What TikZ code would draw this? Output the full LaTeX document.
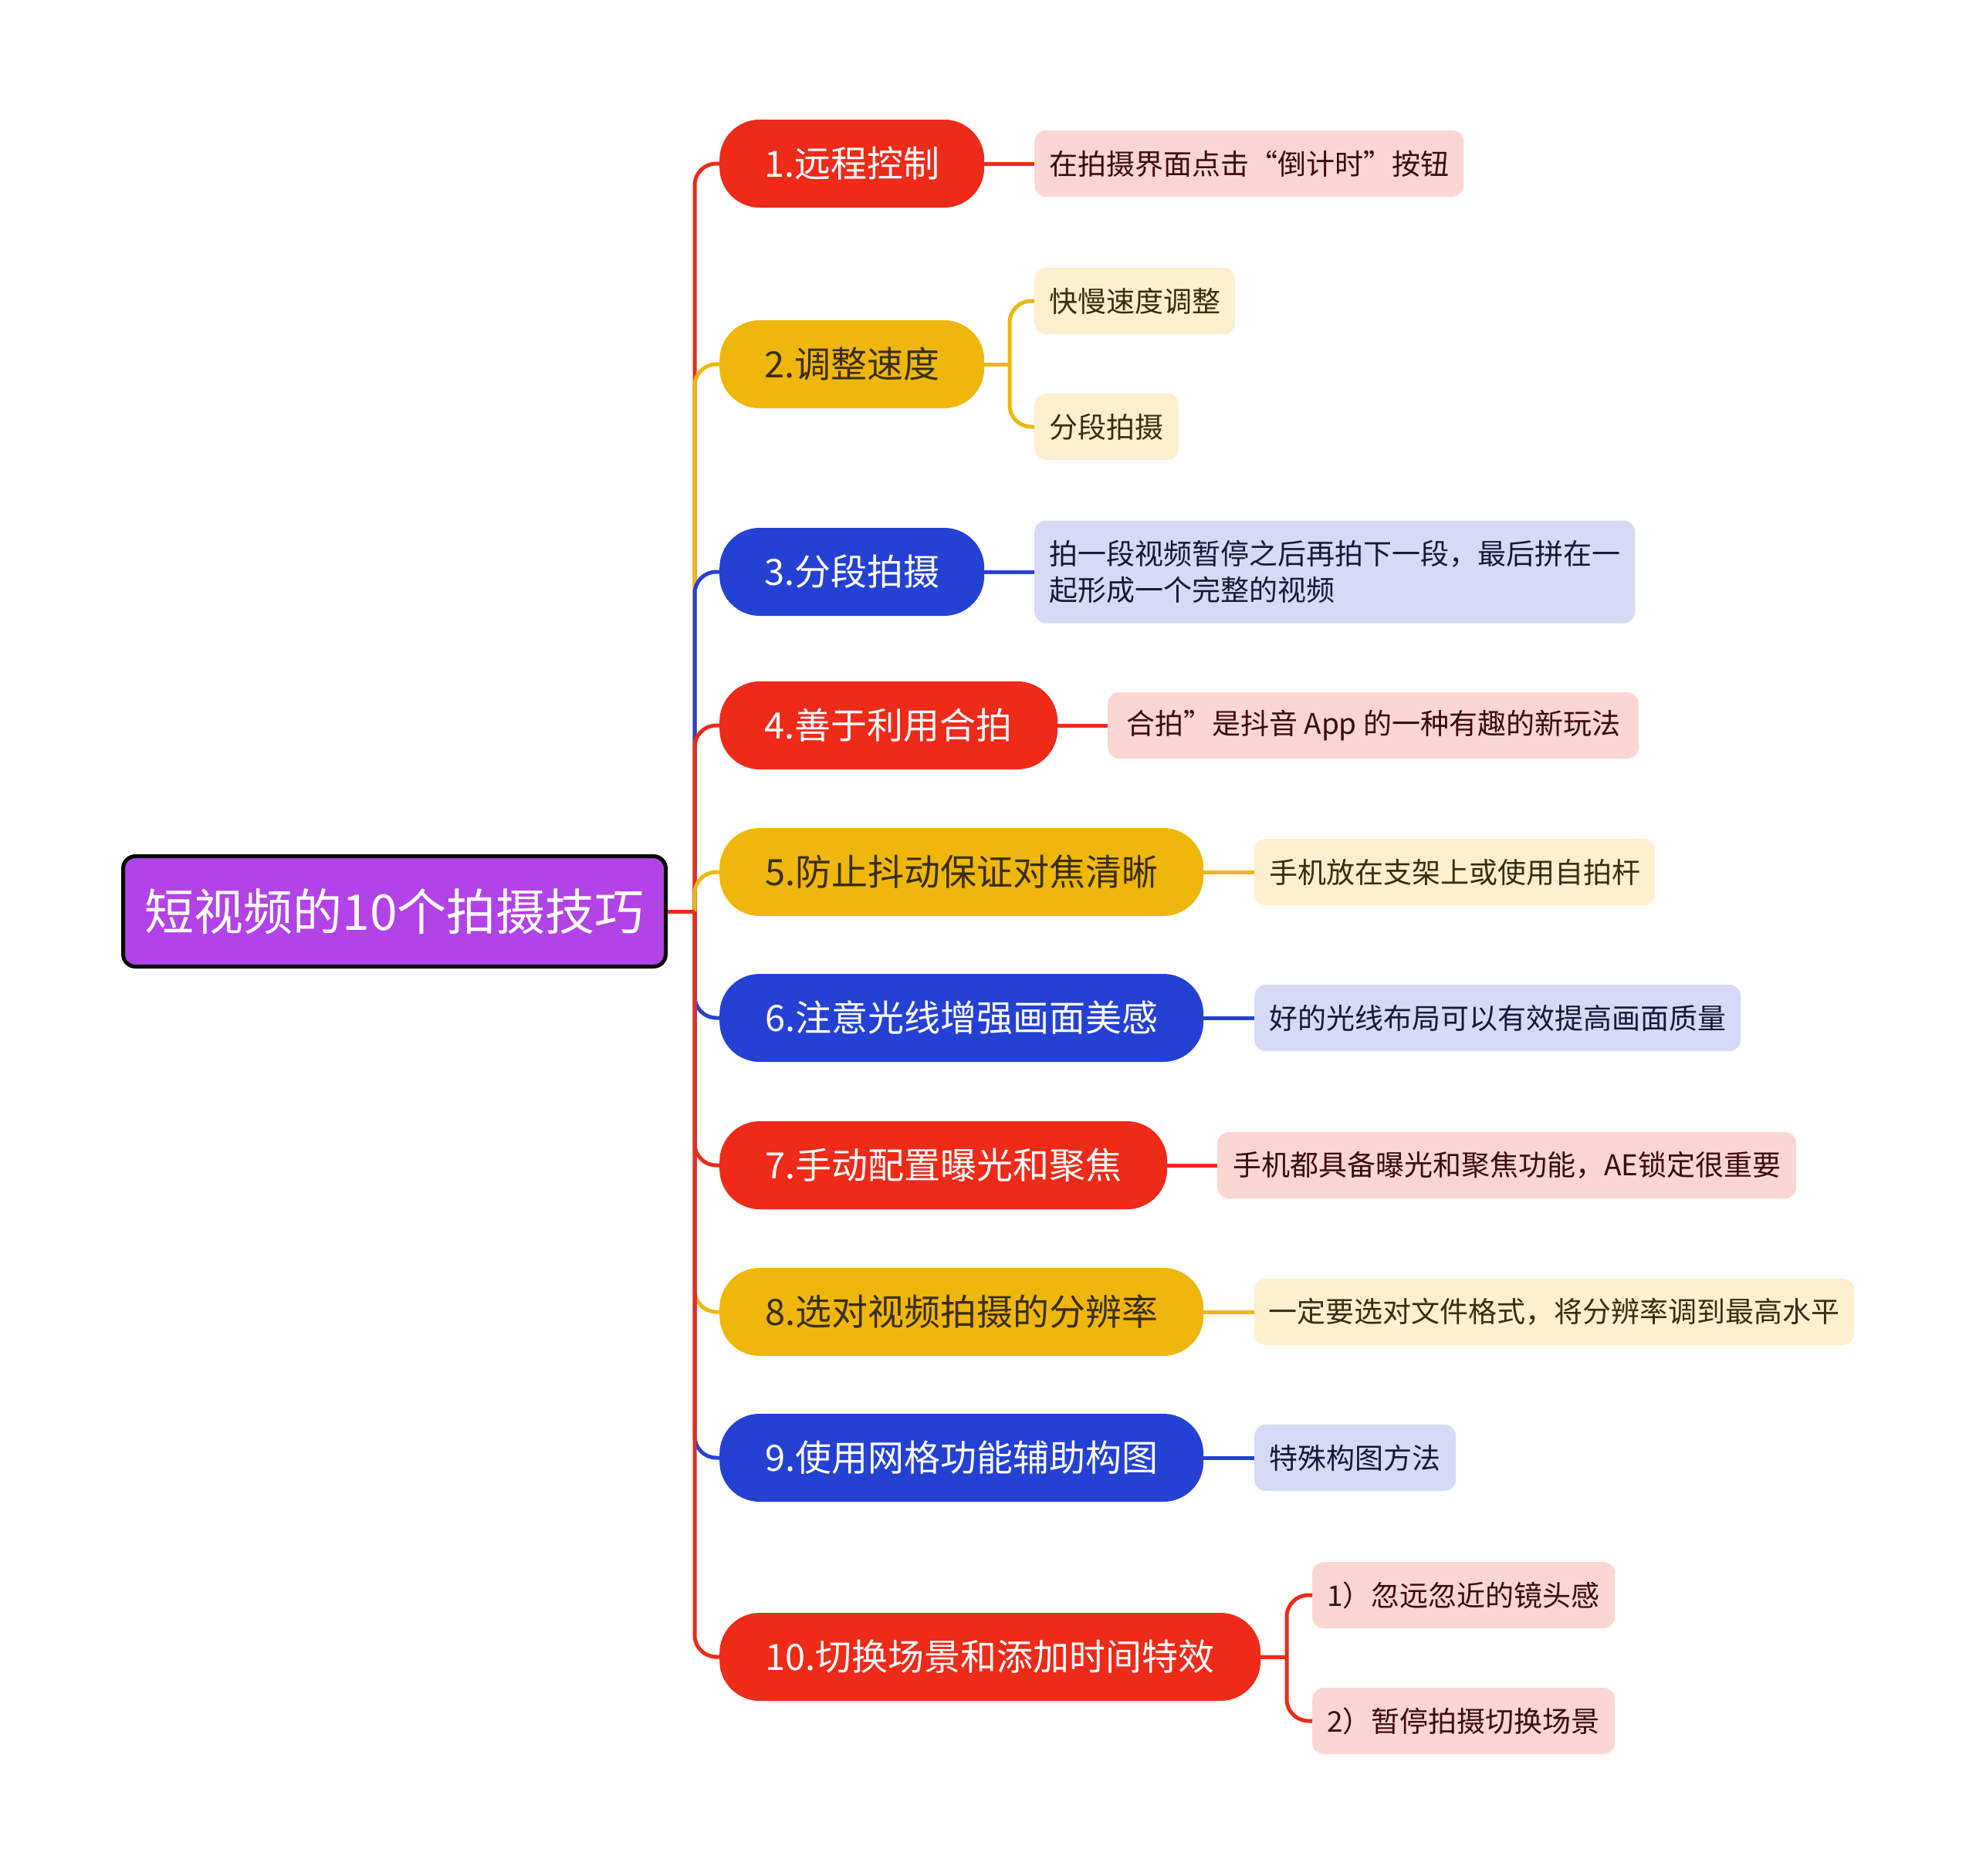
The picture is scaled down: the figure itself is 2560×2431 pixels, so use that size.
\documentclass[tikz,border=0pt]{standalone}
\usepackage{fontspec}
\setmainfont{Noto Sans CJK SC}
\definecolor{cred}{HTML}{EE2A19}
\definecolor{cyel}{HTML}{EFB70C}
\definecolor{cblu}{HTML}{2541D4}
\definecolor{cpur}{HTML}{B243E6}
\definecolor{lred}{HTML}{FBD6D3}
\definecolor{lyel}{HTML}{FDF0CF}
\definecolor{lblu}{HTML}{D6DAF6}
\definecolor{tred}{HTML}{3D0B0B}
\definecolor{tyel}{HTML}{3A2E0C}
\definecolor{tblu}{HTML}{15193A}
\begin{document}
\begin{tikzpicture}[x=1pt,y=-1pt,
  rootbox/.style={fill=cpur, draw=black, line width=5pt, rounded corners=16pt,
    minimum width=703pt, minimum height=143pt, text=white, inner sep=0pt,
    font=\fontsize{64}{72}\selectfont},
  branch/.style={rounded corners=52pt, minimum height=114pt, inner sep=0pt,
    anchor=west, font=\fontsize{47}{56}\selectfont},
  bred/.style={branch, fill=cred, text=white},
  byel/.style={branch, fill=cyel, text=tyel},
  bblu/.style={branch, fill=cblu, text=white},
  leaf/.style={rounded corners=15pt, minimum height=86pt, inner xsep=10pt, inner ysep=0pt,
    anchor=west, font=\fontsize{37}{47}\selectfont},
  lr/.style={leaf, fill=lred, text=tred},
  ly/.style={leaf, fill=lyel, text=tyel},
  lb/.style={leaf, fill=lblu, text=tblu},
  conn/.style={line width=5pt, rounded corners=28pt},
]
\useasboundingbox (0,0) rectangle (2560,2431);

% root
\node[rootbox] (root) at (511,1181) {短视频的10个拍摄技巧};
\coordinate (hub) at (900,1181);

% branches
\node[bred, minimum width=343pt] (b1) at (932,212) {1.远程控制};
\node[byel, minimum width=343pt] (b2) at (932,472) {2.调整速度};
\node[bblu, minimum width=343pt] (b3) at (932,741) {3.分段拍摄};
\node[bred, minimum width=438pt] (b4) at (932,940) {4.善于利用合拍};
\node[byel, minimum width=627pt] (b5) at (932,1130) {5.防止抖动保证对焦清晰};
\node[bblu, minimum width=627pt] (b6) at (932,1319) {6.注意光线增强画面美感};
\node[bred, minimum width=580pt] (b7) at (932,1510) {7.手动配置曝光和聚焦};
\node[byel, minimum width=627pt] (b8) at (932,1700) {8.选对视频拍摄的分辨率};
\node[bblu, minimum width=627pt] (b9) at (932,1889) {9.使用网格功能辅助构图};
\node[bred, minimum width=701pt] (b10) at (932,2147) {10.切换场景和添加时间特效};

% leaves
\node[lr, minimum width=556pt] (l1) at (1340,212) {在拍摄界面点击“倒计时”按钮};
\node[ly, minimum width=260pt] (l2a) at (1340,390) {快慢速度调整};
\node[ly, minimum width=187pt] (l2b) at (1340,553) {分段拍摄};
\node[lb, minimum width=778pt, minimum height=133pt, align=left] (l3) at (1340,741)
  {拍一段视频暂停之后再拍下一段，最后拼在一\\起形成一个完整的视频};
\node[lr, minimum width=688pt] (l4) at (1435,940) {合拍”是抖音 App 的一种有趣的新玩法};
\node[ly, minimum width=519pt] (l5) at (1625,1130) {手机放在支架上或使用自拍杆};
\node[lb, minimum width=630pt] (l6) at (1625,1319) {好的光线布局可以有效提高画面质量};
\node[lr, minimum width=750pt] (l7) at (1577,1510) {手机都具备曝光和聚焦功能，AE锁定很重要};
\node[ly, minimum width=777pt] (l8) at (1625,1700) {一定要选对文件格式，将分辨率调到最高水平};
\node[lb, minimum width=261pt] (l9) at (1625,1889) {特殊构图方法};
\node[lr, minimum width=392pt] (l10a) at (1700,2067) {1）忽远忽近的镜头感};
\node[lr, minimum width=392pt] (l10b) at (1700,2230) {2）暂停拍摄切换场景};

% trunk connectors (drawn in order, later on top)
\draw[conn, cred] (hub) |- (b1.west);
\draw[conn, cyel] (hub) |- (b2.west);
\draw[conn, cblu] (hub) |- (b3.west);
\draw[conn, cred] (hub) |- (b4.west);
\draw[conn, cyel] (hub) |- (b5.west);
\draw[conn, cblu] (hub) |- (b6.west);
\draw[conn, cred] (hub) |- (b7.west);
\draw[conn, cyel] (hub) |- (b8.west);
\draw[conn, cblu] (hub) |- (b9.west);
\draw[conn, cred] (hub) |- (b10.west);
\draw[line width=5pt, cred] (root.east) -- (hub);

% leaf connectors
\coordinate (j2) at (1308,472);
\coordinate (j10) at (1667,2147);
\draw[conn, cred] (b1.east) -- (l1.west);
\draw[conn, cyel] (b2.east) -- (j2);
\draw[conn, cyel] (j2) |- (l2a.west);
\draw[conn, cyel] (j2) |- (l2b.west);
\draw[conn, cblu] (b3.east) -- (l3.west);
\draw[conn, cred] (b4.east) -- (l4.west);
\draw[conn, cyel] (b5.east) -- (l5.west);
\draw[conn, cblu] (b6.east) -- (l6.west);
\draw[conn, cred] (b7.east) -- (l7.west);
\draw[conn, cyel] (b8.east) -- (l8.west);
\draw[conn, cblu] (b9.east) -- (l9.west);
\draw[conn, cred] (b10.east) -- (j10);
\draw[conn, cred] (j10) |- (l10a.west);
\draw[conn, cred] (j10) |- (l10b.west);
\end{tikzpicture}
\end{document}
